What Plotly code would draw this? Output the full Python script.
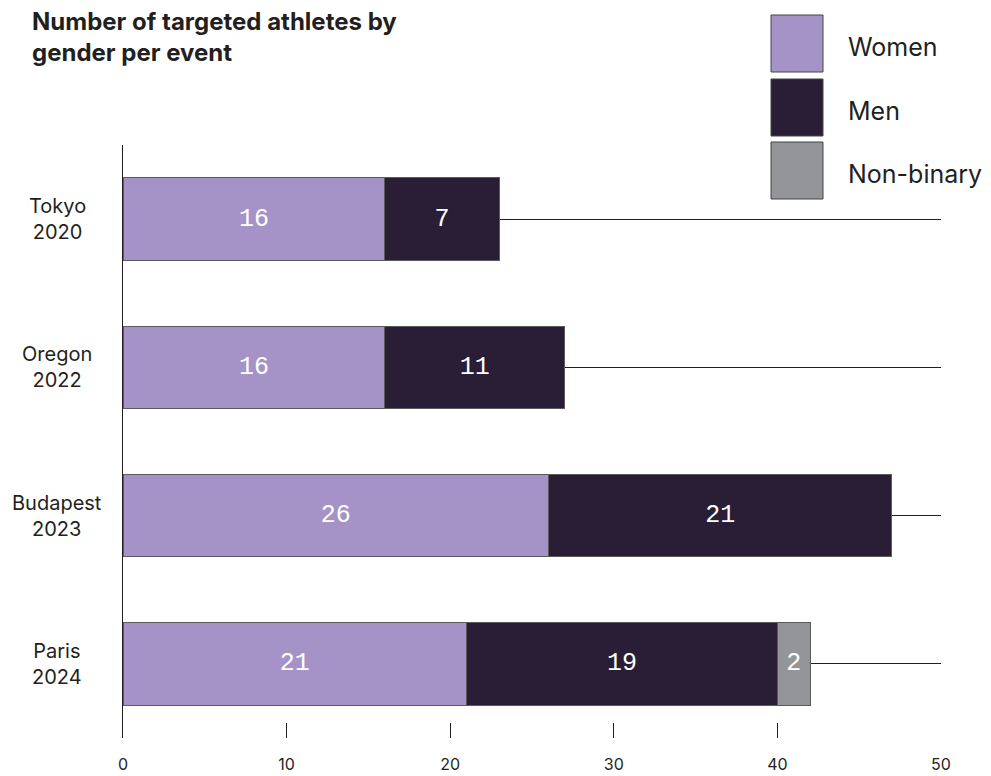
import plotly.graph_objects as go

events = ["Tokyo<br>2020", "Oregon<br>2022", "Budapest<br>2023", "Paris<br>2024"]
women = [16, 16, 26, 21]
men = [7, 11, 21, 19]
nonbinary = [None, None, None, 2]
series_names = ["Women", "Men", "Non-binary"]
colors = ["#A593C7", "#2A1E36", "#939598"]
xticks = [0, 10, 20, 30, 40, 50]

W, H = 991, 776
L, R, T, B = 123, 941, 145, 738

def px(x):
    return (x - L) / (R - L)

def py(y):
    return (B - y) / (B - T)

fig = go.Figure()
for name, vals, col in zip(series_names, [women, men, nonbinary], colors):
    fig.add_trace(go.Bar(
        y=events, x=vals, name=name, orientation="h",
        marker=dict(color=col, line=dict(color="#5a5a5a", width=1)),
        text=[("" if v is None else str(v)) for v in vals],
        textposition="inside", insidetextanchor="middle",
        textfont=dict(family="Liberation Mono", size=25, color="white"),
        constraintext="none", cliponaxis=False,
        showlegend=False,
    ))

fig.update_layout(
    barmode="stack", bargap=0.445,
    width=W, height=H,
    margin=dict(l=L, r=W - R, t=T, b=H - B, pad=0, autoexpand=False),
    plot_bgcolor="white", paper_bgcolor="white",
    font=dict(family="Inter", color="#231f20"),
)
fig.update_xaxes(
    range=[0, 50], tickvals=xticks, ticktext=[str(t) for t in xticks],
    showgrid=False, zeroline=False, showline=False, automargin=False,
    ticks="inside", ticklen=15, tickcolor="#231f20", tickwidth=1,
    ticklabelstandoff=15, tickfont=dict(size=16, color="#231f20"),
)
fig.update_yaxes(
    autorange=False, range=[3.5, -0.5], categoryorder="array", categoryarray=events,
    showgrid=True, gridcolor="#231f20", gridwidth=1, automargin=False,
    showline=True, linecolor="#231f20", linewidth=1,
    showticklabels=False, ticks="", zeroline=False,
)

# Category labels (centered two-line)
for i, ev in enumerate(events):
    fig.add_annotation(
        xref="paper", yref="y", x=px(57), y=ev, text=ev, showarrow=False,
        xanchor="center", yanchor="middle", align="center",
        font=dict(family="Inter", size=20, color="#231f20"),
    )

# Title
fig.add_annotation(
    xref="paper", yref="paper", x=px(30), y=py(5), xanchor="left", yanchor="top",
    text="<b>Number of targeted athletes by<br>gender per event</b>", showarrow=False,
    align="left", font=dict(family="Inter", size=24, color="#231f20"),
)

# Legend boxes
box_tops = [15, 79, 142]
for name, col, top in zip(series_names, colors, box_tops):
    fig.add_shape(
        type="rect", xref="paper", yref="paper",
        x0=px(771), x1=px(823), y0=py(top + 57), y1=py(top),
        fillcolor=col, line=dict(color="#444", width=1),
    )
    fig.add_annotation(
        xref="paper", yref="paper", x=px(846), y=py(top + 32),
        xanchor="left", yanchor="middle", text=name, showarrow=False,
        font=dict(family="Inter", size=25, color="#231f20"),
    )

fig.write_html("out.html")
